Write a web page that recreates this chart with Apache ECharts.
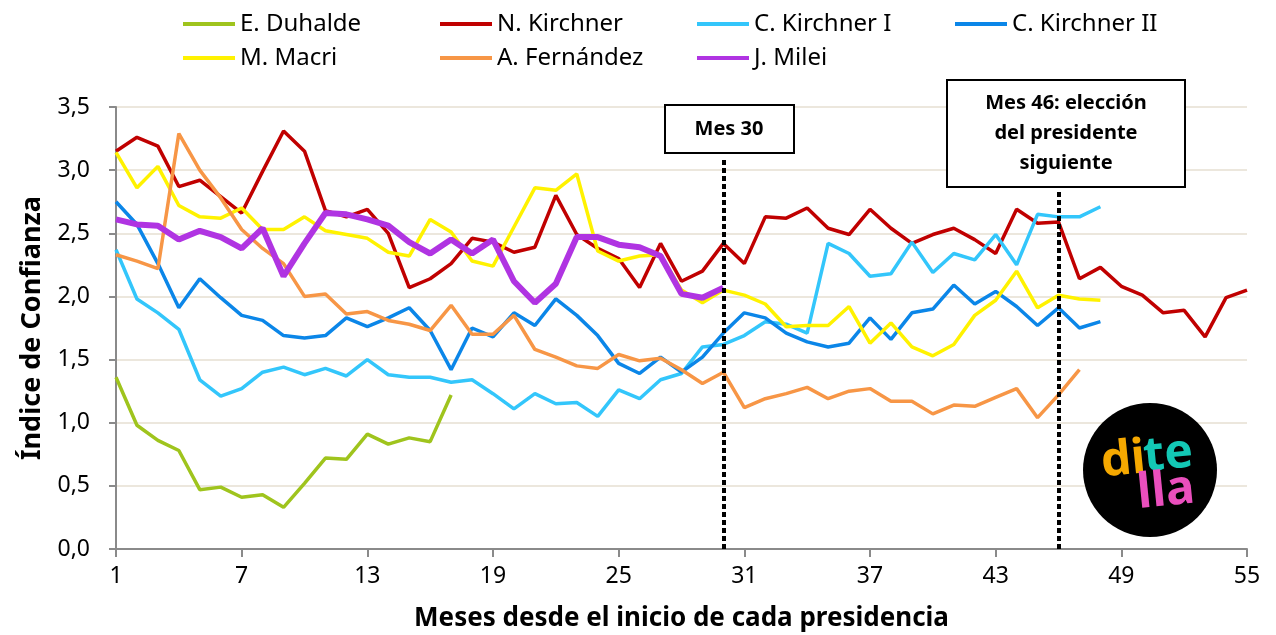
<!DOCTYPE html>
<html>
<head>
<meta charset="utf-8">
<script src="https://cdn.jsdelivr.net/npm/echarts@6/dist/echarts.min.js"></script>
<style>
    html, body { margin: 0; padding: 0; background: #fff; }
    #confianza { width: 1276px; height: 635px; }
</style>
</head>
<body>
<div id="confianza"></div>
<script>
// meses desde el inicio de cada presidencia
var meses = ['1', '2', '3', '4', '5', '6', '7', '8', '9', '10', '11', '12', '13', '14', '15', '16', '17', '18', '19', '20',
    '21', '22', '23', '24', '25', '26', '27', '28', '29', '30', '31', '32', '33', '34', '35', '36', '37', '38', '39', '40',
    '41', '42', '43', '44', '45', '46', '47', '48', '49', '50', '51', '52', '53', '54', '55'];

var duhalde = [1.36, 0.98, 0.86, 0.78, 0.47, 0.49, 0.41, 0.43, 0.33, 0.52, 0.72, 0.71, 0.91, 0.83, 0.88, 0.85, 1.22];
var nKirchner = [3.15, 3.26, 3.19, 2.87, 2.92, 2.79, 2.66, 2.99, 3.31, 3.15, 2.68, 2.63, 2.69, 2.50, 2.07, 2.14, 2.26, 2.46, 2.43, 2.35,
    2.39, 2.80, 2.49, 2.38, 2.30, 2.07, 2.42, 2.12, 2.20, 2.42, 2.26, 2.63, 2.62, 2.70, 2.54, 2.49, 2.69, 2.54, 2.42, 2.49,
    2.54, 2.45, 2.34, 2.69, 2.58, 2.59, 2.14, 2.23, 2.08, 2.01, 1.87, 1.89, 1.68, 1.99, 2.05];
var cKirchner1 = [2.37, 1.98, 1.87, 1.74, 1.34, 1.21, 1.27, 1.40, 1.44, 1.38, 1.43, 1.37, 1.50, 1.38, 1.36, 1.36, 1.32, 1.34, 1.23, 1.11,
    1.23, 1.15, 1.16, 1.05, 1.26, 1.19, 1.34, 1.39, 1.60, 1.62, 1.69, 1.80, 1.78, 1.71, 2.42, 2.34, 2.16, 2.18, 2.43, 2.19,
    2.34, 2.29, 2.49, 2.25, 2.65, 2.63, 2.63, 2.71];
var cKirchner2 = [2.75, 2.57, 2.26, 1.91, 2.14, 1.99, 1.85, 1.81, 1.69, 1.67, 1.69, 1.83, 1.76, 1.83, 1.91, 1.73, 1.42, 1.75, 1.68, 1.87,
    1.77, 1.98, 1.85, 1.69, 1.47, 1.39, 1.52, 1.40, 1.52, 1.71, 1.87, 1.83, 1.71, 1.64, 1.60, 1.63, 1.83, 1.66, 1.87, 1.90,
    2.09, 1.94, 2.04, 1.92, 1.77, 1.91, 1.75, 1.80];
var macri = [3.14, 2.86, 3.03, 2.72, 2.63, 2.62, 2.70, 2.53, 2.53, 2.63, 2.52, 2.49, 2.46, 2.35, 2.32, 2.61, 2.51, 2.28, 2.24, 2.55,
    2.86, 2.84, 2.97, 2.36, 2.28, 2.32, 2.33, 2.05, 1.95, 2.05, 2.01, 1.94, 1.76, 1.77, 1.77, 1.92, 1.63, 1.79, 1.60, 1.53,
    1.62, 1.85, 1.97, 2.20, 1.91, 2.01, 1.98, 1.97];
var fernandez = [2.33, 2.28, 2.22, 3.29, 3.00, 2.78, 2.53, 2.38, 2.26, 2.00, 2.02, 1.86, 1.88, 1.81, 1.78, 1.73, 1.93, 1.70, 1.70, 1.85,
    1.58, 1.52, 1.45, 1.43, 1.54, 1.49, 1.51, 1.42, 1.31, 1.40, 1.12, 1.19, 1.23, 1.28, 1.19, 1.25, 1.27, 1.17, 1.17, 1.07,
    1.14, 1.13, 1.20, 1.27, 1.04, 1.22, 1.42];
var milei = [2.61, 2.57, 2.56, 2.45, 2.52, 2.47, 2.38, 2.54, 2.16, 2.42, 2.66, 2.65, 2.61, 2.56, 2.43, 2.34, 2.45, 2.34, 2.45, 2.12,
    1.95, 2.10, 2.47, 2.47, 2.41, 2.39, 2.32, 2.02, 1.99, 2.07];

var nombres = ['E. Duhalde', 'N. Kirchner', 'C. Kirchner I', 'C. Kirchner II', 'M. Macri', 'A. Fernández', 'J. Milei'];
var colores = ['#9fc41d', '#c00000', '#33c6fb', '#0b86e8', '#fff200', '#f79646', '#b034e2'];

window.onload = function () {
    var chart = echarts.init(document.getElementById('confianza'));
    var fuente = '"Noto Sans", "Open Sans", sans-serif';
    var datos = [duhalde, nKirchner, cKirchner1, cKirchner2, macri, fernandez, milei];

    // una leyenda por cada serie, para fijar su posicion
    var leyendaX = [183, 440, 697, 955, 183, 440, 697];
    var leyendaY = [12, 12, 12, 12, 46, 46, 46];
    var leyendas = [];
    var series = [];
    for (var i = 0; i < nombres.length; i++) {
        leyendas.push({
            data: [nombres[i]],
            left: leyendaX[i],
            top: leyendaY[i],
            padding: 0,
            icon: 'rect',
            itemWidth: 52,
            itemHeight: 4,
            selectedMode: false,
            textStyle: { color: '#000', fontSize: 24, fontFamily: fuente }
        });
        series.push({
            name: nombres[i],
            type: 'line',
            data: datos[i],
            showSymbol: false,
            symbol: 'none',
            color: colores[i],
            lineStyle: { width: i == 6 ? 6 : 3.5, color: colores[i] },
            z: i == 6 ? 4 : 3
        });
    }

    // lineas punteadas de mes 30 y mes 46
    series[1].markLine = {
        silent: true,
        symbol: 'none',
        label: { show: false },
        lineStyle: { color: '#000', width: 4, type: [5, 3] },
        data: [
            [{ coord: ['30', 0] }, { coord: ['30', 3.10] }],
            [{ coord: ['46', 0] }, { coord: ['46', 2.83] }]
        ]
    };

    var logo = 'bold 48px "Noto Sans", sans-serif';

    var option = {
        backgroundColor: '#fff',
        animation: false,
        legend: leyendas,
        grid: { left: 116, right: 29, top: 107, bottom: 86, outerBoundsMode: 'none' },
        xAxis: {
            type: 'category',
            data: meses,
            boundaryGap: false,
            name: 'Meses desde el inicio de cada presidencia',
            nameLocation: 'middle',
            nameGap: 57,
            nameTextStyle: { color: '#000', fontSize: 26, fontWeight: 'bold', fontFamily: fuente },
            axisLine: { lineStyle: { color: '#8a8a8a', width: 2 } },
            axisTick: { interval: 5, length: 8, lineStyle: { color: '#8a8a8a', width: 2 } },
            axisLabel: { interval: 5, color: '#000', fontSize: 23, margin: 16, fontFamily: fuente },
            splitLine: { show: false }
        },
        yAxis: {
            type: 'value',
            min: 0,
            max: 3.5,
            interval: 0.5,
            name: 'Índice de Confianza',
            nameLocation: 'middle',
            nameGap: 70,
            nameTextStyle: { color: '#000', fontSize: 27, fontWeight: 'bold', fontFamily: fuente },
            axisLine: { show: true, lineStyle: { color: '#8a8a8a', width: 2 } },
            axisTick: { show: true, length: 7, lineStyle: { color: '#8a8a8a', width: 2 } },
            axisLabel: {
                color: '#000', fontSize: 23, margin: 26, fontFamily: fuente,
                formatter: function (v) { return v.toFixed(1).replace('.', ','); }
            },
            splitLine: { lineStyle: { color: '#ece7dd', width: 2 } }
        },
        series: series,
        graphic: [
            {   // caja mes 30
                type: 'rect',
                shape: { x: 665, y: 105, width: 129, height: 48 },
                style: { fill: '#fff', stroke: '#000', lineWidth: 2 },
                z: 10
            },
            {
                type: 'text',
                x: 729, y: 129,
                style: {
                    text: 'Mes 30', fill: '#000', font: 'bold 20px ' + fuente,
                    align: 'center', verticalAlign: 'middle'
                },
                z: 11
            },
            {   // caja mes 46
                type: 'rect',
                shape: { x: 947, y: 80, width: 238, height: 107 },
                style: { fill: '#fff', stroke: '#000', lineWidth: 2 },
                z: 10
            },
            {
                type: 'text',
                x: 1066, y: 133,
                style: {
                    text: 'Mes 46: elección\ndel presidente\nsiguiente', fill: '#000',
                    font: 'bold 20px ' + fuente, lineHeight: 30,
                    align: 'center', verticalAlign: 'middle'
                },
                z: 11
            },
            {   // logo di tella
                type: 'circle',
                shape: { cx: 1150, cy: 470, r: 67 },
                style: { fill: '#000' },
                z: 10
            },
            {
                type: 'group',
                x: 1150, y: 470,
                rotation: 0.1,
                children: [
                    { type: 'text', x: -48, y: 12, z: 12, style: { text: 'di', fill: '#f5a800', font: logo, verticalAlign: 'bottom' } },
                    { type: 'text', x: -5, y: 11, z: 12, style: { text: 'te', fill: '#13c8b5', font: logo, verticalAlign: 'bottom' } },
                    { type: 'text', x: -15, y: 47, z: 12, style: { text: 'lla', fill: '#ea4fbd', font: logo, verticalAlign: 'bottom' } }
                ]
            }
        ]
    };
    chart.setOption(option);
};
</script>
</body>
</html>
